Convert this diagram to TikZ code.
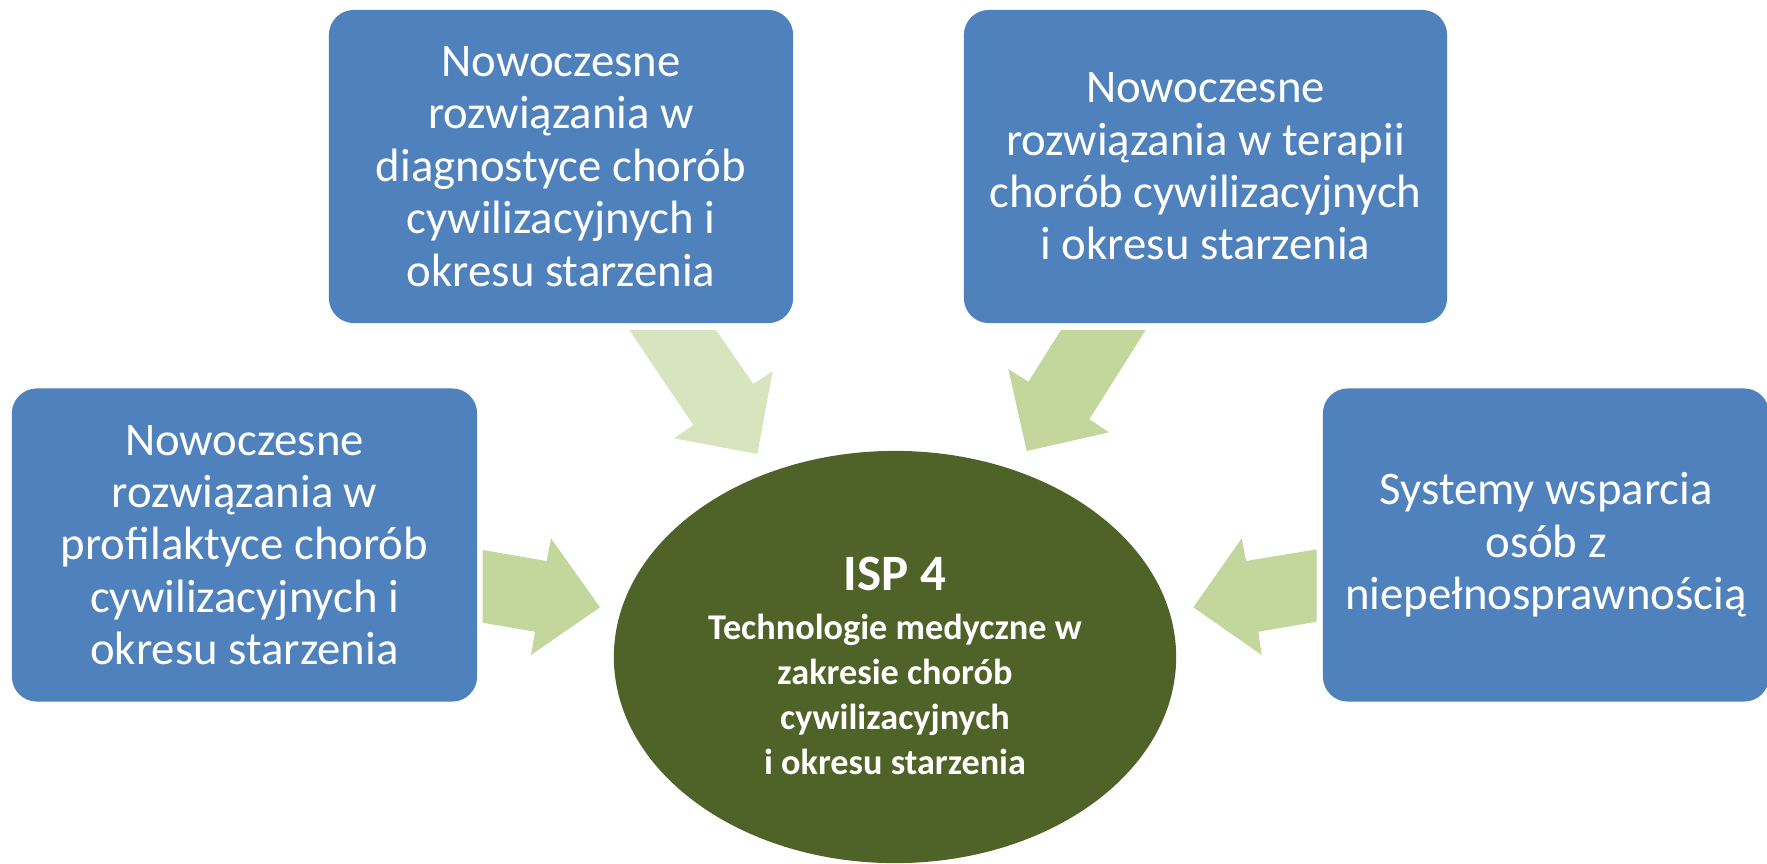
\documentclass[tikz,border=0pt]{standalone}
\usepackage{fontspec}
\setmainfont{Carlito}
\usetikzlibrary{shapes.geometric}
\definecolor{boxblue}{HTML}{4F81BD}
\definecolor{arrowgreen}{HTML}{C3D69B}
\definecolor{arrowpale}{HTML}{D7E4BD}
\definecolor{hubgreen}{HTML}{4F6228}
\begin{document}
\begin{tikzpicture}[x=0.01cm,y=-0.01cm,
    box/.style={fill=boxblue,rounded corners=0.25cm,text=white,align=center,
        minimum height=3.13cm,font=\fontsize{13.3}{14.9}\selectfont},
    hub/.style={ellipse,fill=hubgreen,minimum width=5.62cm,minimum height=4.12cm,inner sep=0pt},
    hubtext/.style={text=white,align=center,font=\fontsize{10.3}{12.8}\selectfont\bfseries}]
                \useasboundingbox (0,0) rectangle (1767,863);
                \node[box,minimum width=4.64cm] (D) at (561,166.5) {Nowoczesne\\rozwiązania w\\diagnostyce chorób\\cywilizacyjnych i\\okresu starzenia};
                \node[box,minimum width=4.83cm] (T) at (1205.5,166.5) {Nowoczesne\\rozwiązania w terapii\\chorób cywilizacyjnych\\i okresu starzenia};
                \node[box,minimum width=4.65cm] (P) at (244.5,545) {Nowoczesne\\rozwiązania w\\profilaktyce chorób\\cywilizacyjnych i\\okresu starzenia};
                \node[box,minimum width=4.46cm] (S) at (1546,545) {Systemy wsparcia\\osób z\\niepełnosprawnością};
                \node[hub] (C) at (895,657) {};
                \node[hubtext] (CT) at ([yshift=-0.09cm]C.center) {{\fontsize{14.5}{12.8}\selectfont ISP 4}\\[1pt]Technologie medyczne w\\zakresie chorób\\cywilizacyjnych\\i okresu starzenia};
                % block arrows towards the centre
                \fill[arrowpale] (629.3,330) -- (716,330) -- (753.3,384) -- (772.7,371) -- (757.3,454) -- (674,438.3) -- (693.3,425) -- cycle;
                \fill[arrowgreen] (1145.7,330) -- (1061,330) -- (1028.3,381.7) -- (1008.3,369) -- (1026.7,451) -- (1109,432.3) -- (1089.3,419.3) -- cycle;
                \fill[arrowgreen] (482.7,550) -- (546.7,561) -- (551,538.3) -- (600,607.3) -- (531,655) -- (535,631.7) -- (482.7,622.7) -- cycle;
                \fill[arrowgreen] (1316.7,549.3) -- (1246,561) -- (1241.7,538.3) -- (1193.3,607.3) -- (1261.7,655) -- (1258.3,631.7) -- (1316.7,621.7) -- cycle;
\end{tikzpicture}
\end{document}
